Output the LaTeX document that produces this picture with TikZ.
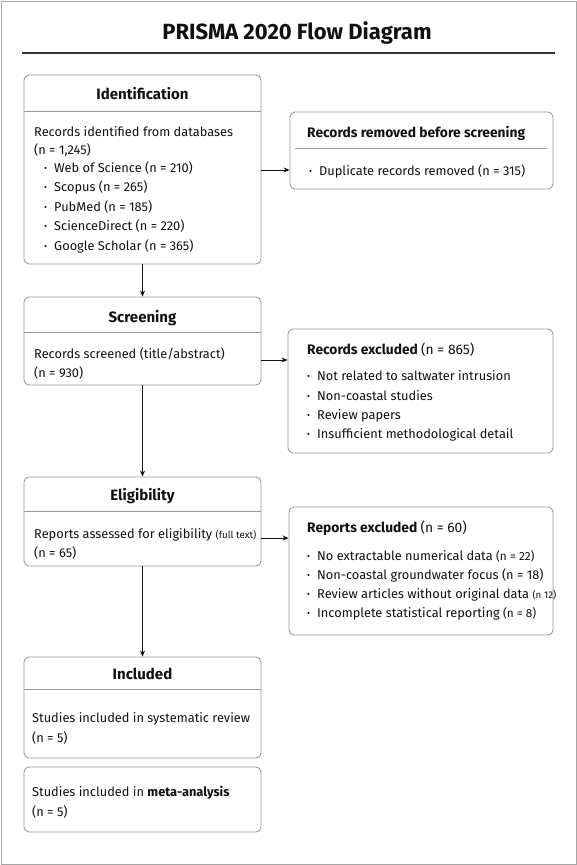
\documentclass[tikz,border=0pt]{standalone}
\usepackage{fontspec}
\setmainfont{Fira Sans}
\usetikzlibrary{fit,arrows.meta}
\definecolor{boxgray}{HTML}{9A9A9A}
\definecolor{txt}{HTML}{111111}
\newcommand\bul{\makebox[10pt][l]{\raisebox{0.5pt}{\scalebox{0.7}{•}}}}
\newcommand\sm[1]{{\fontsize{9.8}{12}\selectfont #1}}
\newcommand\smm[1]{{\fontsize{11.8}{13}\selectfont #1}}
\tikzset{
  box/.style={draw=boxgray, line width=0.9pt, rounded corners=5pt, inner sep=0pt},
  sep/.style={draw=boxgray, line width=0.9pt},
  hdr/.style={font=\fontsize{15}{17}\selectfont\bfseries, text=txt, anchor=base, inner sep=0pt},
  hdrl/.style={font=\fontsize{13.8}{16}\selectfont\bfseries, text=txt, anchor=base west, inner sep=0pt},
  body/.style={font=\fontsize{12.8}{15}\selectfont, text=txt, anchor=base west, inner sep=0pt},
  arr/.style={draw=txt, line width=0.9pt, -{Stealth[length=6pt,width=5pt]}},
}
\begin{document}
\begin{tikzpicture}[x=1pt,y=-1pt]
\useasboundingbox (0,0) rectangle (577,865);
\draw[draw=black!35, line width=1pt] (1,1) rectangle (576,864);
% title
\node[font=\fontsize{22}{26}\selectfont\bfseries, text=txt, inner sep=0pt, anchor=base] (title) at (297,39) {PRISMA 2020 Flow Diagram};
\draw[draw=black!80, line width=1.1pt] (22,53) -- (555,53);

% Identification
\node[box, fit={(24,75) (261,264)}] (id) {};
\draw[sep] (24,111) -- (261,111);
\node[hdr] (idh) at (142.5,99) {Identification};
\node[body] (id1) at (34,136) {Records identified from databases};
\node[body] (id2) at (34,154) {(n = 1,245)};
\node[body] (id3) at (44,172) {\bul Web of Science (n = 210)};
\node[body] (id4) at (44,191) {\bul Scopus (n = 265)};
\node[body] (id5) at (44,211) {\bul PubMed (n = 185)};
\node[body] (id6) at (44,230) {\bul ScienceDirect (n = 220)};
\node[body] (id7) at (44,250) {\bul Google Scholar (n = 365)};

% Removed
\node[box, fit={(290,112) (553,189)}] (rm) {};
\draw[sep] (295,148) -- (547,148);
\node[hdrl] (rmh) at (307,137) {Records removed before screening};
\node[body] (rm1) at (309,175) {\bul Duplicate records removed (n = 315)};

% Screening
\node[box, fit={(24,297) (261,385)}] (sc) {};
\draw[sep] (24,332) -- (261,332);
\node[hdr] (sch) at (142.5,322) {Screening};
\node[body] (sc1) at (34,358) {Records screened (title/abstract)};
\node[body] (sc2) at (34,377) {(n = 930)};

% Excluded
\node[box, fit={(288,329) (553,453)}] (ex) {};
\node[hdrl] (exh) at (307,354) {Records excluded \mdseries(n = 865)};
\node[body] (ex1) at (307,380) {\bul Not related to saltwater intrusion};
\node[body] (ex2) at (307,400) {\bul Non-coastal studies};
\node[body] (ex3) at (307,419) {\bul Review papers};
\node[body] (ex4) at (307,438) {\bul Insufficient methodological detail};

% Eligibility
\node[box, fit={(24,477) (261,566)}] (el) {};
\draw[sep] (24,511) -- (261,511);
\node[hdr] (elh) at (142.5,500) {Eligibility};
\node[body] (el1) at (34,538) {Reports assessed for eligibility \sm{(full text)}};
\node[body] (el2) at (34,557) {(n = 65)};

% Reports excluded
\node[box, fit={(289,507) (553,635)}] (re) {};
\node[hdrl] (reh) at (307,532) {Reports excluded \mdseries(n = 60)};
\node[body] (re1) at (307,560) {\bul No extractable numerical data \smm{(n = 22)}};
\node[body] (re2) at (307,579) {\bul Non-coastal groundwater focus (n = 18)};
\node[body] (re3) at (307,598) {\bul Review articles without original data \sm{(n 12)}};
\node[body] (re4) at (307,617) {\bul Incomplete statistical reporting \smm{(n = 8)}};

% Included
\node[box, fit={(24,657) (261,758)}] (in) {};
\draw[sep] (24,689) -- (261,689);
\node[hdr] (inh) at (142.5,679) {Included};
\node[body] (in1) at (32,722) {Studies included in systematic review};
\node[body] (in2) at (32,742) {(n = 5)};

% Meta
\node[box, fit={(24,767) (261,832)}] (ma) {};
\node[body] (ma1) at (32,796) {Studies included in \textbf{meta-analysis}};
\node[body] (ma2) at (32,816) {(n = 5)};

% connectors
\draw[arr] (id.east |- 0,170) -- (rm.west |- 0,170);
\draw[arr] (id.south) -- (sc.north);
\draw[arr] (sc.east |- 0,360) -- (ex.west |- 0,360);
\draw[arr] (sc.south) -- (el.north);
\draw[arr] (el.east |- 0,538) -- (re.west |- 0,538);
\draw[arr] (el.south) -- (in.north);
\end{tikzpicture}
\end{document}
